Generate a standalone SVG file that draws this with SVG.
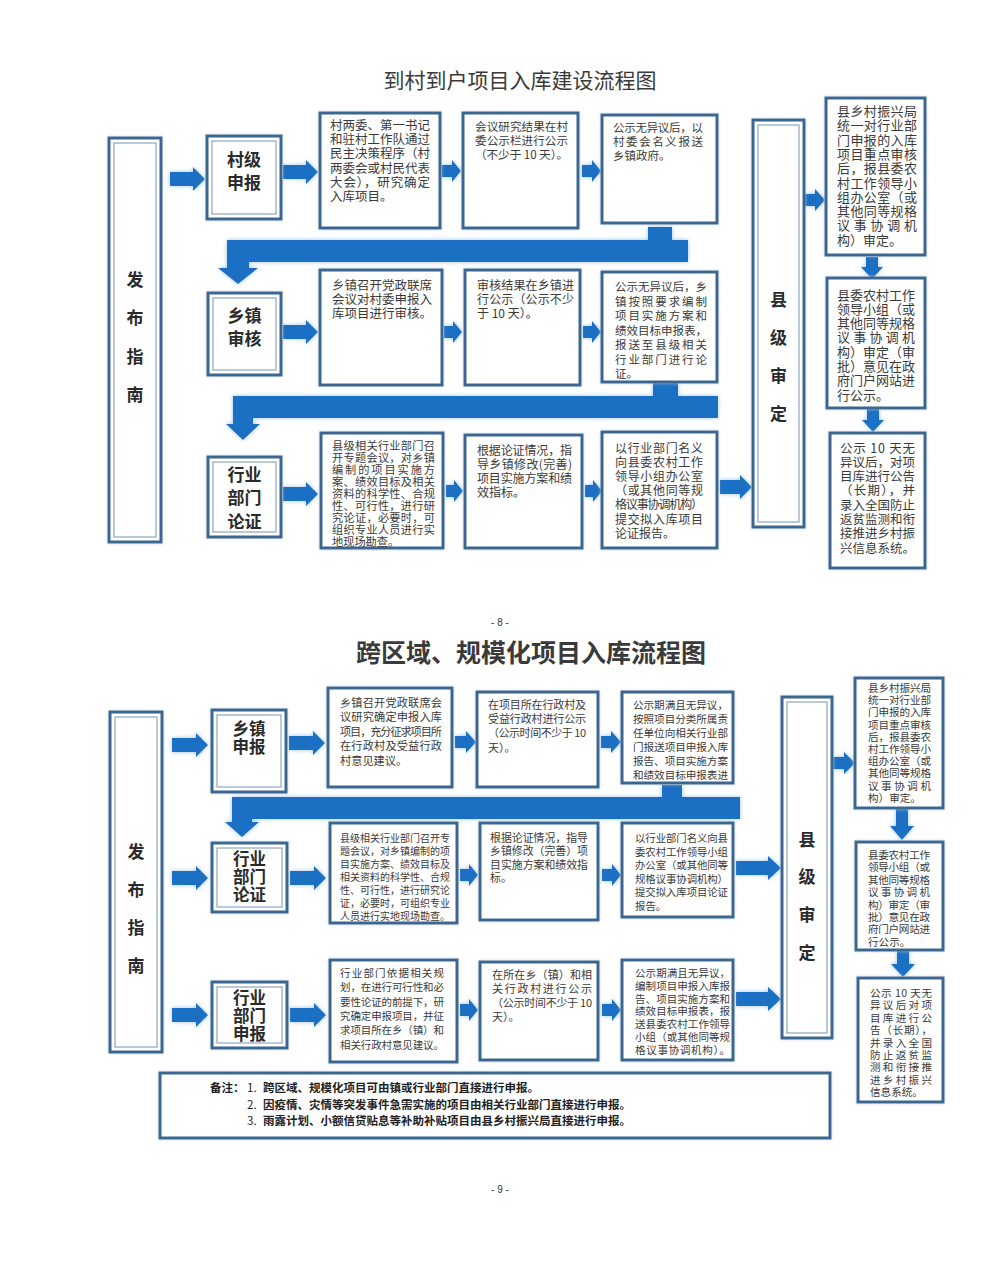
<svg xmlns="http://www.w3.org/2000/svg" width="1000" height="1264" viewBox="0 0 1000 1264">
<defs>
<style>
text{font-family:"Noto Sans CJK SC","Liberation Sans",sans-serif;fill:#3a3a3a}
.bx{fill:#fff;stroke:#3a6690;stroke-width:3}
.in{fill:none;stroke:#7892ae;stroke-width:1}
.lb{font-weight:bold;font-size:17px;text-anchor:middle;fill:#2a2a2a}
.lb2{font-weight:bold;font-size:16.5px;text-anchor:middle;fill:#2a2a2a}
.arr{fill:#1c6fc3}
.pg{font-family:"Liberation Sans",sans-serif;font-size:10px;text-anchor:middle;fill:#333}
.nt{font-weight:bold;font-size:11.5px;fill:#222}
</style>
<filter id="glow" x="-10%" y="-10%" width="120%" height="120%">
<feGaussianBlur in="SourceAlpha" stdDeviation="2" result="b"/>
<feFlood flood-color="#8fbbe6" flood-opacity="0.9"/>
<feComposite in2="b" operator="in" result="g"/>
<feMerge><feMergeNode in="g"/><feMergeNode in="SourceGraphic"/></feMerge>
</filter>
<filter id="glow2" x="-10%" y="-10%" width="120%" height="120%">
<feGaussianBlur in="SourceAlpha" stdDeviation="1.5" result="b"/>
<feFlood flood-color="#b7cde4" flood-opacity="0.8"/>
<feComposite in2="b" operator="in" result="g"/>
<feMerge><feMergeNode in="g"/><feMergeNode in="SourceGraphic"/></feMerge>
</filter>
</defs>
<rect width="1000" height="1264" fill="#fff"/>

<text x="520" y="88" text-anchor="middle" font-size="21" fill="#222">到村到户项目入库建设流程图</text>
<text class="pg" x="500" y="626">- 8 -</text>
<text x="531" y="662" text-anchor="middle" font-size="25" font-weight="bold" fill="#111">跨区域、规模化项目入库流程图</text>
<text class="pg" x="500" y="1193">- 9 -</text>

<g id="connectors" class="arr" filter="url(#glow)">
<path d="M170,172H193V167L205,179L193,191V186H170Z"/>
<path d="M283,165H306V160L318,172L306,184V179H283Z"/>
<path d="M442,165H452V160L461,171L452,182V177H442Z"/>
<path d="M582,165H592V160L601,171L592,182V177H582Z"/>
<path d="M805,194H815V189L825,200L815,211V206H805Z"/>
<path d="M866,257V267H861L872,279L883,267H878V257Z"/>
<path d="M867,409V420H862L873,432L884,420H879V409Z"/>
<path d="M648,227H672V240H688V262H249V268H258L238,284L218,268H227V240H648Z"/>
<path d="M283,325H306V320L318,332L306,344V339H283Z"/>
<path d="M444,326H453V321L462,332L453,343V338H444Z"/>
<path d="M583,326H592V321L601,332L592,343V338H583Z"/>
<path d="M653,383H678V396H718V418H253V424H260L243,440L226,424H233V396H653Z"/>
<path d="M283,487H306V482L318,494L306,506V501H283Z"/>
<path d="M446,485H454V480L463,491L454,502V497H446Z"/>
<path d="M585,485H593V480L602,491L593,502V497H585Z"/>
<path d="M720,480H740V475L752,487L740,499V494H720Z"/>
<path d="M172,738H196V733L208,745L196,757V752H172Z"/>
<path d="M172,871H196V866L208,878L196,890V885H172Z"/>
<path d="M172,1008H196V1003L208,1015L196,1027V1022H172Z"/>
<path d="M289,736H313V731L325,743L313,755V750H289Z"/>
<path d="M455,736H466V731L476,742L466,753V748H455Z"/>
<path d="M601,736H611V731L621,742L611,753V748H601Z"/>
<path d="M662,785H682V797H740V819H252V822H259L242,837L225,822H232V797H662Z"/>
<path d="M290,871H314V866L326,878L314,890V885H290Z"/>
<path d="M460,869H469V864L478,875L469,886V881H460Z"/>
<path d="M602,869H612V864L621,875L612,886V881H602Z"/>
<path d="M736,861H768V856L781,868L768,880V875H736Z"/>
<path d="M290,1008H314V1003L326,1015L314,1027V1022H290Z"/>
<path d="M460,1004H469V999L478,1010L469,1021V1016H460Z"/>
<path d="M602,1004H612V999L621,1010L612,1021V1016H602Z"/>
<path d="M736,992H768V987L781,999L768,1011V1006H736Z"/>
<path d="M833,757H844V752L855,763L844,774V769H833Z"/>
<path d="M896,809V826H890L902,840L914,826H908V809Z"/>
<path d="M897,951V964H891L903,977L915,964H909V951Z"/>
</g>

<g id="t-fabu"><rect class="bx" x="109" y="138" width="52" height="404" filter="url(#glow2)"/><rect class="in" x="114" y="143" width="42" height="394"/>
<text class="lb"><tspan x="135" y="286">发</tspan><tspan x="135" y="324">布</tspan><tspan x="135" y="363">指</tspan><tspan x="135" y="401">南</tspan></text></g>

<g id="t-cunji"><rect class="bx" x="207" y="136" width="74" height="83" filter="url(#glow2)"/><rect class="in" x="212" y="141" width="64" height="73"/>
<text class="lb"><tspan x="244" y="166">村级</tspan><tspan x="244" y="189">申报</tspan></text></g>

<g id="t-xiangzhen"><rect class="bx" x="208" y="293" width="73" height="82" filter="url(#glow2)"/><rect class="in" x="213" y="298" width="63" height="72"/>
<text class="lb"><tspan x="244.5" y="322">乡镇</tspan><tspan x="244.5" y="345">审核</tspan></text></g>

<g id="t-hangye"><rect class="bx" x="208" y="457" width="73" height="80" filter="url(#glow2)"/><rect class="in" x="213" y="462" width="63" height="70"/>
<text class="lb"><tspan x="244.5" y="481">行业</tspan><tspan x="244.5" y="504">部门</tspan><tspan x="244.5" y="528">论证</tspan></text></g>

<g id="t-box1"><rect class="bx" x="320" y="113" width="120" height="115" filter="url(#glow2)"/>
<text font-size="12.5"><tspan x="330" y="130" textLength="100">村两委、第一书记</tspan><tspan x="330" y="144.2" textLength="100">和驻村工作队通过</tspan><tspan x="330" y="158.4" textLength="100">民主决策程序（村</tspan><tspan x="330" y="172.6" textLength="100">两委会或村民代表</tspan><tspan x="330" y="186.8" textLength="100">大会），研究确定</tspan><tspan x="330" y="201">入库项目。</tspan></text></g>

<g id="t-box2"><rect class="bx" x="463" y="113" width="115" height="115" filter="url(#glow2)"/>
<text font-size="11.6"><tspan x="475" y="131" textLength="93">会议研究结果在村</tspan><tspan x="475" y="145.2" textLength="93">委公示栏进行公示</tspan><tspan x="475" y="159.4" textLength="93">（不少于 10 天）。</tspan></text></g>

<g id="t-box3"><rect class="bx" x="602" y="115" width="115" height="108" filter="url(#glow2)"/>
<text font-size="11.5"><tspan x="613" y="132" textLength="90">公示无异议后，以</tspan><tspan x="613" y="146.2" textLength="90">村委会名义报送</tspan><tspan x="613" y="160.4">乡镇政府。</tspan></text></g>

<g id="t-box4"><rect class="bx" x="320" y="270" width="122" height="115" filter="url(#glow2)"/>
<text font-size="12.5"><tspan x="332" y="290" textLength="100">乡镇召开党政联席</tspan><tspan x="332" y="304.2" textLength="100">会议对村委申报入</tspan><tspan x="332" y="318.4" textLength="100">库项目进行审核。</tspan></text></g>

<g id="t-box5"><rect class="bx" x="465" y="270" width="115" height="115" filter="url(#glow2)"/>
<text font-size="12"><tspan x="477" y="290" textLength="97">审核结果在乡镇进</tspan><tspan x="477" y="304.2" textLength="97">行公示（公示不少</tspan><tspan x="477" y="318.4">于 10 天）。</tspan></text></g>

<g id="t-box6"><rect class="bx" x="602" y="272" width="115" height="110" filter="url(#glow2)"/>
<text font-size="11.5"><tspan x="615" y="291" textLength="92">公示无异议后，乡</tspan><tspan x="615" y="305.5" textLength="92">镇按照要求编制</tspan><tspan x="615" y="320" textLength="92">项目实施方案和</tspan><tspan x="615" y="334.5" textLength="92">绩效目标申报表，</tspan><tspan x="615" y="349" textLength="92">报送至县级相关</tspan><tspan x="615" y="363.5" textLength="92">行业部门进行论</tspan><tspan x="615" y="378">证。</tspan></text></g>

<g id="t-box7"><rect class="bx" x="321" y="433" width="122" height="115" filter="url(#glow2)"/>
<text font-size="11.2"><tspan x="332" y="449.5" textLength="103">县级相关行业部门召</tspan><tspan x="332" y="461.5" textLength="103">开专题会议，对乡镇</tspan><tspan x="332" y="473.5" textLength="103">编制的项目实施方</tspan><tspan x="332" y="485.5" textLength="103">案、绩效目标及相关</tspan><tspan x="332" y="497.5" textLength="103">资料的科学性、合规</tspan><tspan x="332" y="509.5" textLength="103">性、可行性，进行研</tspan><tspan x="332" y="521.5" textLength="103">究论证，必要时，可</tspan><tspan x="332" y="533.5" textLength="103">组织专业人员进行实</tspan><tspan x="332" y="545.5">地现场勘查。</tspan></text></g>

<g id="t-box8"><rect class="bx" x="465" y="435" width="117" height="113" filter="url(#glow2)"/>
<text font-size="12"><tspan x="477" y="454.5" textLength="95">根据论证情况，指</tspan><tspan x="477" y="468.7" textLength="95">导乡镇修改(完善)</tspan><tspan x="477" y="482.9" textLength="95">项目实施方案和绩</tspan><tspan x="477" y="497.1">效指标。</tspan></text></g>

<g id="t-box9"><rect class="bx" x="602" y="432" width="115" height="116" filter="url(#glow2)"/>
<text font-size="12"><tspan x="615" y="452.5" textLength="88">以行业部门名义</tspan><tspan x="615" y="466.7" textLength="88">向县委农村工作</tspan><tspan x="615" y="480.9" textLength="88">领导小组办公室</tspan><tspan x="615" y="495.1" textLength="88">（或其他同等规</tspan><tspan x="615" y="509.3" textLength="88">格议事协调机构）</tspan><tspan x="615" y="523.5" textLength="88">提交拟入库项目</tspan><tspan x="615" y="537.7">论证报告。</tspan></text></g>

<g id="t-xianji"><rect class="bx" x="753" y="120" width="51" height="407" filter="url(#glow2)"/><rect class="in" x="758" y="125" width="41" height="397"/>
<text class="lb"><tspan x="778.5" y="306">县</tspan><tspan x="778.5" y="344">级</tspan><tspan x="778.5" y="382">审</tspan><tspan x="778.5" y="420">定</tspan></text></g>

<g id="t-r1"><rect class="bx" x="826" y="98" width="99" height="157" filter="url(#glow2)"/>
<text font-size="13"><tspan x="837" y="116" textLength="80">县乡村振兴局</tspan><tspan x="837" y="130.3" textLength="80">统一对行业部</tspan><tspan x="837" y="144.6" textLength="80">门申报的入库</tspan><tspan x="837" y="158.9" textLength="80">项目重点审核</tspan><tspan x="837" y="173.2" textLength="80">后，报县委农</tspan><tspan x="837" y="187.5" textLength="80">村工作领导小</tspan><tspan x="837" y="201.8" textLength="80">组办公室（或</tspan><tspan x="837" y="216.1" textLength="80">其他同等规格</tspan><tspan x="837" y="230.4" textLength="80">议事协调机</tspan><tspan x="837" y="244.7">构）审定。</tspan></text></g>

<g id="t-r2"><rect class="bx" x="827" y="278" width="98" height="130" filter="url(#glow2)"/>
<text font-size="13"><tspan x="837" y="299.5" textLength="78">县委农村工作</tspan><tspan x="837" y="313.8" textLength="78">领导小组（或</tspan><tspan x="837" y="328.1" textLength="78">其他同等规格</tspan><tspan x="837" y="342.4" textLength="78">议事协调机</tspan><tspan x="837" y="356.7" textLength="78">构）审定（审</tspan><tspan x="837" y="371" textLength="78">批）意见在政</tspan><tspan x="837" y="385.3" textLength="78">府门户网站进</tspan><tspan x="837" y="399.6">行公示。</tspan></text></g>

<g id="t-r3"><rect class="bx" x="830" y="433" width="95" height="135" filter="url(#glow2)"/>
<text font-size="12.5"><tspan x="840" y="452.5" textLength="75">公示 10 天无</tspan><tspan x="840" y="466.8" textLength="75">异议后，对项</tspan><tspan x="840" y="481.1" textLength="75">目库进行公告</tspan><tspan x="840" y="495.4" textLength="75">（长期），并</tspan><tspan x="840" y="509.7" textLength="75">录入全国防止</tspan><tspan x="840" y="524" textLength="75">返贫监测和衔</tspan><tspan x="840" y="538.3" textLength="75">接推进乡村振</tspan><tspan x="840" y="552.6">兴信息系统。</tspan></text></g>

<g id="b-fabu"><rect class="bx" x="110" y="712" width="52" height="340" filter="url(#glow2)"/><rect class="in" x="115" y="717" width="42" height="330"/>
<text class="lb"><tspan x="136" y="858">发</tspan><tspan x="136" y="896">布</tspan><tspan x="136" y="934">指</tspan><tspan x="136" y="972">南</tspan></text></g>

<g id="b-xiangzhen"><rect class="bx" x="212" y="710" width="74" height="82" filter="url(#glow2)"/><rect class="in" x="217" y="715" width="64" height="72"/>
<text class="lb2"><tspan x="249" y="735">乡镇</tspan><tspan x="249" y="753">申报</tspan></text></g>

<g id="b-hangye1"><rect class="bx" x="212" y="843" width="75" height="69" filter="url(#glow2)"/><rect class="in" x="217" y="848" width="65" height="59"/>
<text class="lb2"><tspan x="249.5" y="865">行业</tspan><tspan x="249.5" y="883">部门</tspan><tspan x="249.5" y="901">论证</tspan></text></g>

<g id="b-hangye2"><rect class="bx" x="212" y="982" width="75" height="66" filter="url(#glow2)"/><rect class="in" x="217" y="987" width="65" height="56"/>
<text class="lb2"><tspan x="249.5" y="1004">行业</tspan><tspan x="249.5" y="1022">部门</tspan><tspan x="249.5" y="1040">申报</tspan></text></g>

<g id="b-box1"><rect class="bx" x="328" y="688" width="124" height="99" filter="url(#glow2)"/>
<text font-size="11.2"><tspan x="340" y="707" textLength="102">乡镇召开党政联席会</tspan><tspan x="340" y="721.4" textLength="102">议研究确定申报入库</tspan><tspan x="340" y="735.8" textLength="102">项目，充分征求项目所</tspan><tspan x="340" y="750.2" textLength="102">在行政村及受益行政</tspan><tspan x="340" y="764.6">村意见建议。</tspan></text></g>

<g id="b-box2"><rect class="bx" x="477" y="692" width="121" height="95" filter="url(#glow2)"/>
<text font-size="11"><tspan x="488" y="709" textLength="98">在项目所在行政村及</tspan><tspan x="488" y="723.2" textLength="98">受益行政村进行公示</tspan><tspan x="488" y="737.4" textLength="98">（公示时间不少于 10</tspan><tspan x="488" y="751.6">天）。</tspan></text></g>

<g id="b-box3"><rect class="bx" x="622" y="692" width="111" height="91" filter="url(#glow2)"/>
<text font-size="10.6"><tspan x="633" y="709" textLength="95">公示期满且无异议，</tspan><tspan x="633" y="723" textLength="95">按照项目分类所属责</tspan><tspan x="633" y="737" textLength="95">任单位向相关行业部</tspan><tspan x="633" y="751" textLength="95">门报送项目申报入库</tspan><tspan x="633" y="765" textLength="95">报告、项目实施方案</tspan><tspan x="633" y="779" textLength="95">和绩效目标申报表进</tspan></text></g>

<g id="b-box4"><rect class="bx" x="330" y="823" width="127" height="100" filter="url(#glow2)"/>
<text font-size="10"><tspan x="340" y="842" textLength="110">县级相关行业部门召开专</tspan><tspan x="340" y="855" textLength="110">题会议，对乡镇编制的项</tspan><tspan x="340" y="868" textLength="110">目实施方案、绩效目标及</tspan><tspan x="340" y="881" textLength="110">相关资料的科学性、合规</tspan><tspan x="340" y="894" textLength="110">性、可行性，进行研究论</tspan><tspan x="340" y="907" textLength="110">证，必要时，可组织专业</tspan><tspan x="340" y="920" textLength="110">人员进行实地现场勘查。</tspan></text></g>

<g id="b-box5"><rect class="bx" x="480" y="823" width="118" height="97" filter="url(#glow2)"/>
<text font-size="10.9"><tspan x="490" y="842" textLength="98">根据论证情况，指导</tspan><tspan x="490" y="855.3" textLength="98">乡镇修改（完善）项</tspan><tspan x="490" y="868.6" textLength="98">目实施方案和绩效指</tspan><tspan x="490" y="881.9">标。</tspan></text></g>

<g id="b-box6"><rect class="bx" x="622" y="823" width="111" height="94" filter="url(#glow2)"/>
<text font-size="10.4"><tspan x="635" y="842" textLength="93">以行业部门名义向县</tspan><tspan x="635" y="855.5" textLength="93">委农村工作领导小组</tspan><tspan x="635" y="869" textLength="93">办公室（或其他同等</tspan><tspan x="635" y="882.5" textLength="93">规格议事协调机构）</tspan><tspan x="635" y="896" textLength="93">提交拟入库项目论证</tspan><tspan x="635" y="909.5">报告。</tspan></text></g>

<g id="b-box7"><rect class="bx" x="330" y="960" width="127" height="102" filter="url(#glow2)"/>
<text font-size="10.5"><tspan x="340" y="977" textLength="104">行业部门依据相关规</tspan><tspan x="340" y="991.3" textLength="104">划，在进行可行性和必</tspan><tspan x="340" y="1005.6" textLength="104">要性论证的前提下，研</tspan><tspan x="340" y="1019.9" textLength="104">究确定申报项目，并征</tspan><tspan x="340" y="1034.2" textLength="104">求项目所在乡（镇）和</tspan><tspan x="340" y="1048.5" textLength="104">相关行政村意见建议。</tspan></text></g>

<g id="b-box8"><rect class="bx" x="480" y="962" width="118" height="98" filter="url(#glow2)"/>
<text font-size="11"><tspan x="492" y="979" textLength="100">在所在乡（镇）和相</tspan><tspan x="492" y="993" textLength="100">关行政村进行公示</tspan><tspan x="492" y="1007" textLength="100">（公示时间不少于 10</tspan><tspan x="492" y="1021">天）。</tspan></text></g>

<g id="b-box9"><rect class="bx" x="622" y="960" width="111" height="100" filter="url(#glow2)"/>
<text font-size="10.5"><tspan x="635" y="977" textLength="95">公示期满且无异议，</tspan><tspan x="635" y="989.8" textLength="95">编制项目申报入库报</tspan><tspan x="635" y="1002.6" textLength="95">告、项目实施方案和</tspan><tspan x="635" y="1015.4" textLength="95">绩效目标申报表，报</tspan><tspan x="635" y="1028.2" textLength="95">送县委农村工作领导</tspan><tspan x="635" y="1041" textLength="95">小组（或其他同等规</tspan><tspan x="635" y="1053.8" textLength="95">格议事协调机构）。</tspan></text></g>

<g id="b-xianji"><rect class="bx" x="782" y="697" width="50" height="341" filter="url(#glow2)"/><rect class="in" x="787" y="702" width="40" height="331"/>
<text class="lb"><tspan x="807" y="846">县</tspan><tspan x="807" y="883">级</tspan><tspan x="807" y="921">审</tspan><tspan x="807" y="959">定</tspan></text></g>

<g id="b-r1"><rect class="bx" x="855" y="678" width="88" height="130" filter="url(#glow2)"/>
<text font-size="10.6"><tspan x="868" y="692" textLength="63">县乡村振兴局</tspan><tspan x="868" y="704.2" textLength="63">统一对行业部</tspan><tspan x="868" y="716.4" textLength="63">门申报的入库</tspan><tspan x="868" y="728.6" textLength="63">项目重点审核</tspan><tspan x="868" y="740.8" textLength="63">后，报县委农</tspan><tspan x="868" y="753" textLength="63">村工作领导小</tspan><tspan x="868" y="765.2" textLength="63">组办公室（或</tspan><tspan x="868" y="777.4" textLength="63">其他同等规格</tspan><tspan x="868" y="789.6" textLength="63">议事协调机</tspan><tspan x="868" y="801.8">构）审定。</tspan></text></g>

<g id="b-r2"><rect class="bx" x="856" y="842" width="87" height="108" filter="url(#glow2)"/>
<text font-size="10.6"><tspan x="868" y="859" textLength="62">县委农村工作</tspan><tspan x="868" y="871.4" textLength="62">领导小组（或</tspan><tspan x="868" y="883.8" textLength="62">其他同等规格</tspan><tspan x="868" y="896.2" textLength="62">议事协调机</tspan><tspan x="868" y="908.6" textLength="62">构）审定（审</tspan><tspan x="868" y="921" textLength="62">批）意见在政</tspan><tspan x="868" y="933.4" textLength="62">府门户网站进</tspan><tspan x="868" y="945.8">行公示。</tspan></text></g>

<g id="b-r3"><rect class="bx" x="858" y="978" width="85" height="124" filter="url(#glow2)"/>
<text font-size="10.6"><tspan x="870" y="997" textLength="62">公示 10 天无</tspan><tspan x="870" y="1009.4" textLength="62">异议后对项</tspan><tspan x="870" y="1021.8" textLength="62">目库进行公</tspan><tspan x="870" y="1034.2" textLength="62">告（长期），</tspan><tspan x="870" y="1046.6" textLength="62">并录入全国</tspan><tspan x="870" y="1059" textLength="62">防止返贫监</tspan><tspan x="870" y="1071.4" textLength="62">测和衔接推</tspan><tspan x="870" y="1083.8" textLength="62">进乡村振兴</tspan><tspan x="870" y="1096.2">信息系统。</tspan></text></g>

<g id="b-note"><rect class="bx" x="160" y="1073" width="670" height="65" filter="url(#glow2)"/>
<text class="nt"><tspan x="210" y="1092">备注：</tspan><tspan x="247" y="1092" font-weight="normal">1.</tspan><tspan x="263" y="1092">跨区域、规模化项目可由镇或行业部门直接进行申报。</tspan><tspan x="247" y="1109" font-weight="normal">2.</tspan><tspan x="263" y="1109">因疫情、灾情等突发事件急需实施的项目由相关行业部门直接进行申报。</tspan><tspan x="247" y="1125" font-weight="normal">3.</tspan><tspan x="263" y="1125">雨露计划、小额信贷贴息等补助补贴项目由县乡村振兴局直接进行申报。</tspan></text></g>
</svg>
